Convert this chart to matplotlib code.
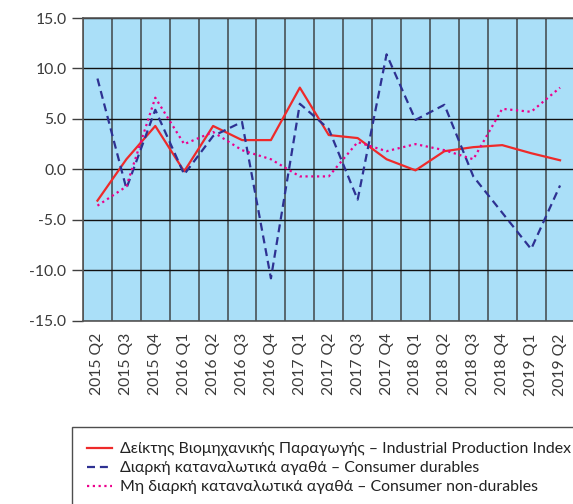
import matplotlib
matplotlib.use("Agg")
import matplotlib.pyplot as plt
import numpy as np

categories = ["2015 Q2", "2015 Q3", "2015 Q4", "2016 Q1", "2016 Q2", "2016 Q3", "2016 Q4",
              "2017 Q1", "2017 Q2", "2017 Q3", "2017 Q4", "2018 Q1", "2018 Q2", "2018 Q3",
              "2018 Q4", "2019 Q1", "2019 Q2"]
industrial = [-3.1, 1.0, 4.3, -0.2, 4.3, 2.9, 2.9, 8.1, 3.4, 3.1, 1.0, -0.1, 1.8, 2.2, 2.4, 1.6, 0.9]
durables = [9.0, -1.9, 5.9, -0.5, 3.3, 4.7, -10.8, 6.5, 4.0, -3.0, 11.4, 4.9, 6.4, -0.7, -4.3, -7.9, -1.6]
non_durables = [-3.6, -1.7, 7.1, 2.5, 3.7, 1.9, 1.0, -0.7, -0.7, 2.7, 1.8, 2.5, 1.9, 1.0, 6.0, 5.7, 8.1]
labels = ["Δείκτης Βιομηχανικής Παραγωγής – Industrial Production Index",
          "Διαρκή καταναλωτικά αγαθά – Consumer durables",
          "Μη διαρκή καταναλωτικά αγαθά – Consumer non-durables"]
yticks = [-15.0, -10.0, -5.0, 0.0, 5.0, 10.0, 15.0]

plt.rcParams['font.family'] = ['Lato', 'DejaVu Sans']
txt = '#3a3a3a'

fig = plt.figure(figsize=(5.73, 5.04), dpi=100)
W, H = 573, 504
ax = fig.add_axes([83 / W, (H - 320.7) / H, (574.5 - 83) / W, (320.7 - 18) / H])
ax.set_facecolor('#aadff8')

x = np.arange(len(categories))
ax.plot(x, industrial, color='#ee2a2a', lw=1.6, label=labels[0], zorder=3)
ax.plot(x, durables, color='#2e3192', lw=1.6, ls=(0, (3.6, 2.2)), label=labels[1], zorder=3)
ax.plot(x, non_durables, color='#ec008c', lw=1.6, ls=(0, (1, 1.6)), label=labels[2], zorder=3)

ax.set_xlim(-0.5, len(categories) - 0.5)
ax.set_ylim(-15, 15)
ax.set_yticks(yticks)
ax.set_yticklabels([f"{v:.1f}" for v in yticks], fontsize=11.3, color=txt)
ax.set_xticks(x)
ax.set_xticklabels(categories, rotation=90, fontsize=11.3, color=txt)
ax.set_xticks(np.arange(-0.5, len(categories), 1), minor=True)
ax.tick_params(axis='x', which='both', length=0, pad=9)
ax.tick_params(axis='y', length=8, width=1, color='#404040', pad=4)
ax.grid(True, axis='y', color='#111111', lw=1, zorder=1)
ax.grid(True, axis='x', which='minor', color='#333333', lw=1.4, alpha=0.7, zorder=1)
ax.grid(False, axis='x', which='major')
ax.set_axisbelow(True)
for s in ax.spines.values():
    s.set_color('#555555')
    s.set_linewidth(1.2)

leg = fig.legend(loc='upper left', bbox_to_anchor=(72 / W, 1 - 427 / H), fontsize=11.4,
                 frameon=True, fancybox=False, edgecolor='#222222', borderpad=0.95,
                 labelspacing=0.32, handlelength=1.6, handletextpad=0.45, borderaxespad=0)
leg.get_frame().set_linewidth(1.0)
for t in leg.get_texts():
    t.set_color('#222222')

fig.savefig('out.png', dpi=100)
